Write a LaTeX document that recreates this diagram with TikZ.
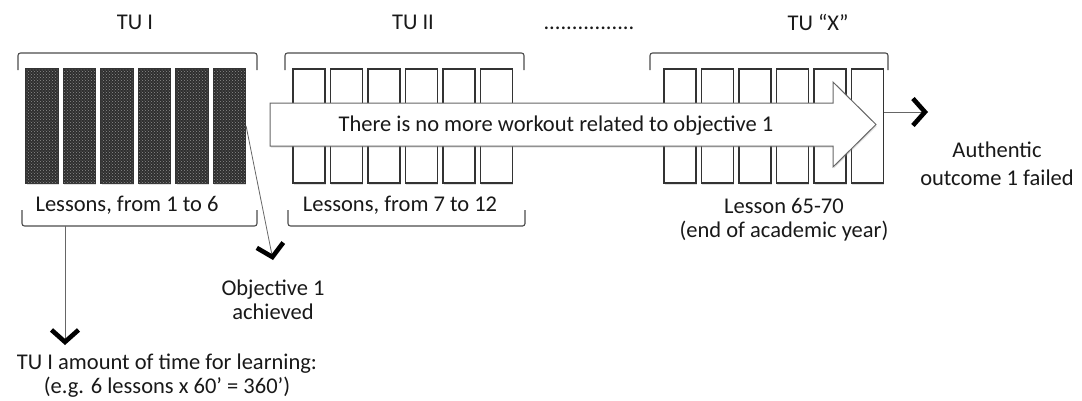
\documentclass[tikz,border=0pt]{standalone}
\usepackage{fontspec}
\setmainfont{Carlito}
\usepackage{tikz}
\usetikzlibrary{positioning,arrows.meta,shadows,patterns}

\begin{document}
\begin{tikzpicture}[x=1pt,y=-1pt,
    lbl/.style={font=\fontsize{22.5}{24.5}\selectfont,text=black!90,align=center,inner sep=0pt},
    lesson/.style={draw=black!80,line width=1.2pt,fill=white,minimum width=32pt,minimum height=114pt,inner sep=0pt,
        drop shadow={shadow xshift=0.8pt,shadow yshift=-1.6pt,opacity=0.25}},
    donelesson/.style={lesson,fill=black!82,postaction={pattern=crosshatch dots,pattern color=black!45}},
    bracket/.style={draw=black!70,line width=1.1pt,rounded corners=2.5pt},
    link/.style={draw=black!60,line width=0.8pt,-{Straight Barb[length=12pt,width=27pt,line width=4.6pt,black]}}]
    \useasboundingbox (0,0) rectangle (1082,400);
    % unit titles
    \node[lbl] (tu1) at (135,22) {TU I};
    \node[lbl] (tu2) at (413,22) {TU II};
    \node[lbl,anchor=base] (more) at (589,29) {................};
    \node[lbl] (tux) at (818,22) {TU “X”};
    % lessons of each unit
    \foreach \i in {1,...,6} {
        \node[donelesson] (b1\i) at ({42+37.5*(\i-1)},126) {};
        \node[lesson] (b2\i) at ({309+37.5*(\i-1)},126) {};
        \node[lesson] (bx\i) at ({680+37.5*(\i-1)},126) {};
    }
    % brackets
    \draw[bracket] (18,70) -- (18,53) -- (257,53) -- (257,70);
    \draw[bracket] (22,210) -- (22,226) -- (257,226) -- (257,210);
    \draw[bracket] (285,70) -- (285,53) -- (524,53) -- (524,70);
    \draw[bracket] (288,210) -- (288,226) -- (525,226) -- (525,210);
    \draw[bracket] (650,70) -- (650,53) -- (888,53) -- (888,70);
    \node[lbl] (les1) at (127,205) {Lessons, from 1 to 6};
    \node[lbl] (les2) at (400,205) {Lessons, from 7 to 12};
    \node[lbl] (lesx) at (784,219.5) {Lesson 65-70\\(end of academic year)};
    % no more workout
    \draw[draw=black!60,line width=1pt,fill=white,drop shadow={shadow xshift=0.8pt,shadow yshift=-1.6pt,opacity=0.25}]
        (270,103) -- (833,103) -- (833,82) -- (876,124.5) -- (833,167) -- (833,146) -- (270,146) -- cycle;
    \node[lbl] (workout) at (556,126) {There is no more workout related to objective 1};
    % outcomes
    \node[lbl] (obj) at (273,300) {Objective 1\\achieved};
    \node[lbl] (time) at (167,375.5) {TU I amount of time for learning:\\(e.g. 6 lessons x 60’ = 360’)};
    \node[lbl,font=\fontsize{22.5}{28}\selectfont] (fail) at (997,164) {Authentic\\outcome 1 failed};
    \coordinate (timeStart) at (65,226);
    \coordinate (timeTip) at (65,345);
    \coordinate (objTip) at (273,260);
    \coordinate (failTip) at (928,112);
    \draw[link] (timeStart) -- (timeTip);
    \draw[link] (b16.east) -- (objTip);
    \draw[link] (bx6.east |- failTip) -- (failTip);
\end{tikzpicture}
\end{document}
